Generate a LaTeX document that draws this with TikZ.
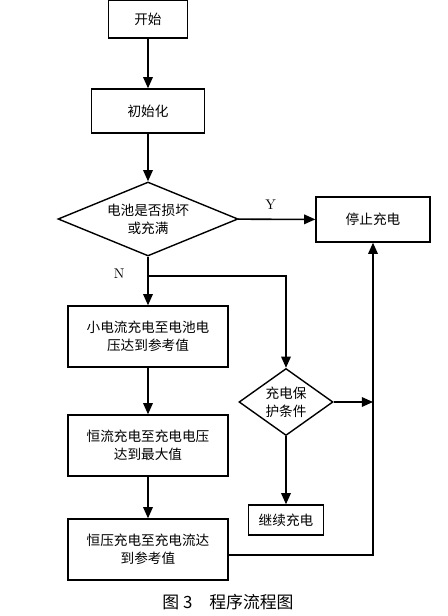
\documentclass[tikz,border=0pt]{standalone}
\usepackage{fontspec}
\newfontfamily\cjk{Noto Sans CJK SC}
\usetikzlibrary{shapes.geometric,arrows.meta}

\begin{document}
\begin{tikzpicture}[
	box/.style = {draw, line width=1pt, inner sep=0pt, align=center, font=\cjk\fontsize{9.7pt}{12.8pt}\selectfont},
	decision/.style = {box, diamond},
	flow/.style = {line width=1.1pt, -{Triangle[length=2.8mm,width=2.4mm]}},
	link/.style = {line width=1.1pt}
	]
	\useasboundingbox (0,0) rectangle (11.2,15.4);
	\node[box, minimum width=1.975cm, minimum height=0.95cm] (start) at (3.7,14.925) {开始};
	\node[box, minimum width=2.825cm, minimum height=1.1cm] (init) at (3.7,12.625) {初始化};
	\node[decision, aspect=2.4, minimum width=4.5cm, minimum height=1.85cm] (full) at (3.7,9.925) {电池是否损坏\\或充满};
	\node[box, minimum width=2.85cm, minimum height=1.125cm] (stop) at (9.325,9.9125) {停止充电};
	\node[box, minimum width=4cm, minimum height=1.525cm] (small) at (3.7,6.9875) {小电流充电至电池电\\压达到参考值};
	\node[box, minimum width=4cm, minimum height=1.525cm] (cc) at (3.7,4.2625) {恒流充电至充电电压\\达到最大值};
	\node[box, minimum width=4cm, minimum height=1.525cm] (cv) at (3.7,1.6625) {恒压充电至充电流达\\到参考值};
	\node[decision, aspect=1.4, minimum width=2.35cm, minimum height=1.675cm] (guard) at (7.15,5.35) {充电保\\护条件};
	\node[box, minimum width=1.875cm, minimum height=0.75cm] (cont) at (7.15,2.4) {继续充电};
	\coordinate (split) at (3.7,8.5);
	\draw[flow] (start) -- (init);
	\draw[flow] (init) -- (full);
	\draw[flow] (full) -- (stop) node[pos=0.42, above=3pt] {Y};
	\draw[flow] (full) -- (small) node[pos=0.34, left=0.45cm] {N};
	\draw[flow] (split) -| (guard);
	\draw[flow] (small) -- (cc);
	\draw[flow] (cc) -- (cv);
	\draw[flow] (guard) -- (cont);
	\draw[flow] ([yshift=-0.14cm]cv.east) -| (stop.south);
	\draw[flow] (guard.east) -- (guard.east -| stop.south);
	\node[font=\cjk\fontsize{12pt}{14pt}\selectfont] (title) at (5.7,0.35) {图 3\quad 程序流程图};
\end{tikzpicture}
\end{document}
